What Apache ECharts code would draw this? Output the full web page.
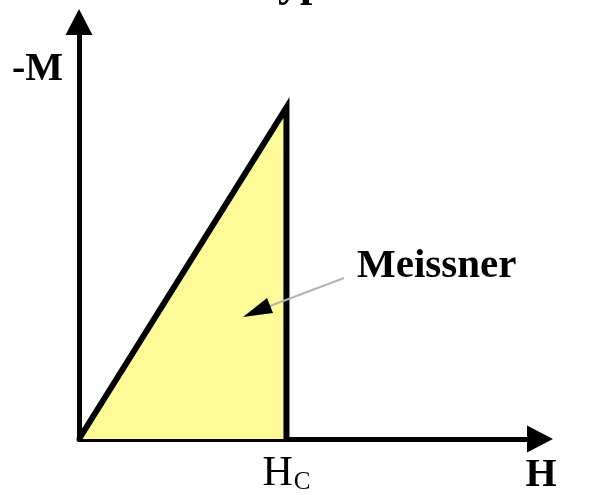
<!DOCTYPE html>
<html>
<head>
<meta charset="utf-8">
<script src="https://cdn.jsdelivr.net/npm/echarts@6/dist/echarts.min.js"></script>
<style>
  html, body { margin: 0; padding: 0; background: #fff; }
  #main { width: 605px; height: 495px; }
</style>
</head>
<body>
<div id="main"></div>
<script>
// field H and magnetisation -M (arbitrary units)
const hValues = [0, 4.5, 4.5];
const mValues = [0, 7.95, 0];
const hcTick = [4.5];
const axisRange = [0, 10];

const serif = '"Liberation Serif", "DejaVu Serif", serif';

const chart = echarts.init(document.getElementById("main"));

const option = {
  animation: false,
  backgroundColor: "#fff",
  grid: { left: 79, right: 65, top: 22, bottom: 55 },
  xAxis: {
    type: "value",
    min: axisRange[0],
    max: axisRange[1],
    splitLine: { show: false },
    axisTick: { show: false },
    axisLine: {
      show: true,
      symbol: ["none", "triangle"],
      symbolSize: [27, 26],
      lineStyle: { color: "#000", width: 5 },
    },
    axisLabel: {
      customValues: hcTick,
      margin: 14,
      formatter: function () {
        return "{h|H}{c|C}";
      },
      rich: {
        h: { fontFamily: serif, fontSize: 42, color: "#000" },
        c: { fontFamily: serif, fontSize: 25, color: "#000", verticalAlign: "bottom", padding: [16, 0, 0, 1] },
      },
    },
  },
  yAxis: {
    type: "value",
    min: axisRange[0],
    max: axisRange[1],
    splitLine: { show: false },
    axisTick: { show: false },
    axisLabel: { show: false },
    axisLine: {
      show: true,
      symbol: ["none", "triangle"],
      symbolSize: [27, 26],
      lineStyle: { color: "#000", width: 5 },
    },
  },
  series: [
    {
      type: "line",
      data: hValues.map((h, i) => [h, mValues[i]]),
      showSymbol: false,
      lineStyle: { color: "#000", width: 6, join: "miter", cap: "butt" },
      areaStyle: { color: "#fdfb97", opacity: 1 },
      z: 3,
    },
  ],
  graphic: [
    // title, mostly cut off by the top edge
    {
      type: "text",
      x: 312, y: 7,
      style: { text: "Type I", font: "bold 44px " + serif, fill: "#000", textAlign: "center", textVerticalAlign: "bottom" },
    },
    {
      type: "text",
      x: 12, y: 70,
      style: { text: "-M", font: "bold 40px " + serif, fill: "#000", textAlign: "left", textVerticalAlign: "middle" },
    },
    {
      type: "text",
      x: 541, y: 476,
      style: { text: "H", font: "bold 40px " + serif, fill: "#000", textAlign: "center", textVerticalAlign: "middle" },
    },
    {
      type: "text",
      x: 357, y: 266,
      style: { text: "Meissner", font: "bold 41px " + serif, fill: "#000", textAlign: "left", textVerticalAlign: "middle" },
    },
    {
      type: "line",
      shape: { x1: 344, y1: 278, x2: 270, y2: 306 },
      style: { stroke: "#b4b4b4", lineWidth: 2 },
      z: 10,
    },
    {
      type: "polygon",
      shape: { points: [[243, 317], [273, 313], [267, 298]] },
      style: { fill: "#000" },
      z: 11,
    },
  ],
};

chart.setOption(option);
</script>
</body>
</html>
